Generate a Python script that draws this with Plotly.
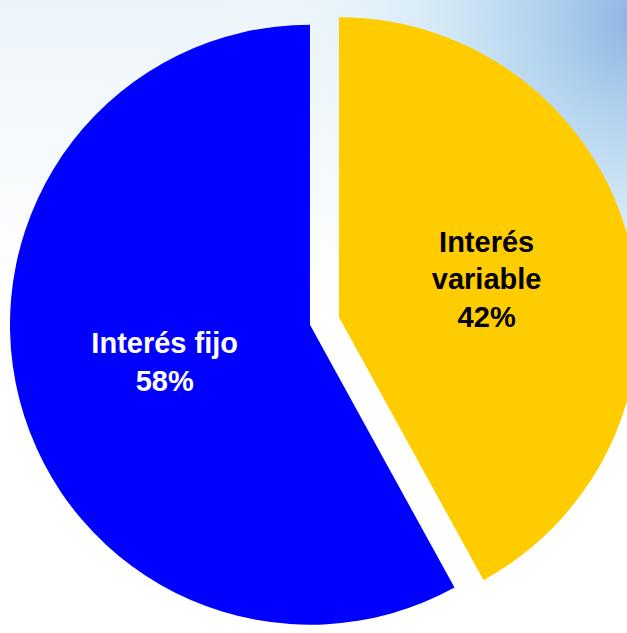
import plotly.graph_objects as go
import base64

# Share of loans by interest type
labels = ["Interés<br>variable", "Interés fijo"]
values = [42, 58]
colors = ["#FFCC00", "#0000FF"]
text_colors = ["#000000", "#FFFFFF"]

W, H = 649, 642

# Soft blue wash in the top-right corner fading to white
svg = f"""<svg xmlns='http://www.w3.org/2000/svg' width='{W}' height='{H}' viewBox='0 0 {W} {H}'>
<defs>
<linearGradient id='top' x1='0' y1='0' x2='0' y2='1'>
<stop offset='0' stop-color='#ebf4fa' stop-opacity='1'/>
<stop offset='0.3' stop-color='#f5f9fc' stop-opacity='0.6'/>
<stop offset='0.6' stop-color='#ffffff' stop-opacity='0'/>
</linearGradient>
<radialGradient id='corner' cx='640' cy='20' r='430' gradientUnits='userSpaceOnUse'>
<stop offset='0' stop-color='#8ab3e0' stop-opacity='1'/>
<stop offset='0.2' stop-color='#a9cdec' stop-opacity='0.95'/>
<stop offset='0.5' stop-color='#d2e9f6' stop-opacity='0.8'/>
<stop offset='1' stop-color='#ffffff' stop-opacity='0'/>
</radialGradient>
</defs>
<rect width='{W}' height='{H}' fill='#ffffff'/>
<rect width='{W}' height='{H}' fill='url(#top)'/>
<rect width='{W}' height='{H}' fill='url(#corner)'/>
</svg>"""
bg_uri = "data:image/svg+xml;base64," + base64.b64encode(svg.encode()).decode()

fig = go.Figure(
    go.Pie(
        labels=labels,
        values=values,
        sort=False,
        direction="clockwise",
        rotation=0,
        pull=[0.05, 0.05],
        marker=dict(colors=colors, line=dict(width=0)),
        texttemplate="%{label}<br>%{percent:.0%}",
        textposition="inside",
        insidetextorientation="horizontal",
        insidetextfont=dict(family="Arial, Liberation Sans", size=29,
                            color=text_colors, weight="bold"),
        hoverinfo="label+percent",
        showlegend=False,
        domain=dict(x=[0, 1], y=[6 / H, 1 - 6 / H]),
    )
)

fig.update_layout(
    width=W,
    height=H,
    margin=dict(l=0, r=0, t=0, b=0),
    paper_bgcolor="#ffffff",
    plot_bgcolor="#ffffff",
    uniformtext=dict(minsize=10, mode="show"),
    images=[dict(source=bg_uri, xref="paper", yref="paper", x=0, y=1,
                 sizex=1, sizey=1, sizing="stretch", xanchor="left",
                 yanchor="top", layer="below")],
)

page_css = (
    "document.documentElement.style.overflow='hidden';"
    "document.body.style.overflow='hidden';"
    "document.body.style.margin='0';"
)
fig.write_html("out.html", post_script=page_css)
